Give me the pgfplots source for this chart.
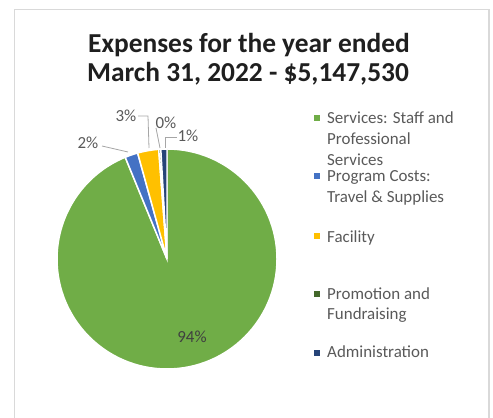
\documentclass[border=0pt]{standalone}
\usepackage{pgfplots}
\pgfplotsset{compat=1.18}
\usepackage{pgfplotstable}
\usepackage{fontspec}
\setmainfont{Carlito}

\definecolor{svc}{HTML}{70AD47}
\definecolor{prog}{HTML}{4472C4}
\definecolor{fac}{HTML}{FFC000}
\definecolor{promo}{HTML}{43682B}
\definecolor{admin}{HTML}{264478}
\definecolor{txt}{HTML}{595959}
\definecolor{lead}{HTML}{A6A6A6}
\definecolor{frame}{HTML}{D9D9D9}

% share of expenses, percent (clockwise from 12 o'clock)
\pgfplotstableread{
name value
Services 93.8
Program 1.9
Facility 3.1
Promotion 0.3
Administration 0.9
}\expenses

\pgfplotstablegetelem{0}{value}\of\expenses \let\vA\pgfplotsretval
\pgfplotstablegetelem{1}{value}\of\expenses \let\vB\pgfplotsretval
\pgfplotstablegetelem{2}{value}\of\expenses \let\vC\pgfplotsretval
\pgfplotstablegetelem{3}{value}\of\expenses \let\vD\pgfplotsretval
\pgfplotstablegetelem{4}{value}\of\expenses \let\vE\pgfplotsretval
\pgfmathsetmacro\aA{90}
\pgfmathsetmacro\aB{\aA-3.6*\vA}
\pgfmathsetmacro\aC{\aB-3.6*\vB}
\pgfmathsetmacro\aD{\aC-3.6*\vC}
\pgfmathsetmacro\aE{\aD-3.6*\vD}
\pgfmathsetmacro\aF{\aE-3.6*\vE}

\newcommand{\lgd}{\fontsize{17}{21}\selectfont}

\begin{document}
\begin{tikzpicture}
\begin{axis}[
  width=493bp, height=418bp, scale only axis,
  xmin=0, xmax=493, ymin=0, ymax=418, y dir=reverse,
  hide axis, clip=true,
]
% frame
\draw[frame, line width=1.2pt] (axis cs:14.5,9.5) rectangle (axis cs:489,440);
% title
\node[font=\bfseries\fontsize{27.5}{29}\selectfont, text=black!88, anchor=base] at (axis cs:249,53) {Expenses for the year ended};
\node[font=\bfseries\fontsize{27.5}{29}\selectfont, text=black!88, anchor=base] at (axis cs:248,82) {March 31, 2022 - \$5,147,530};
% pie slices
\fill[svc, draw=white, line width=1.5pt] (axis cs:167,259) -- ++(\aA:110bp) arc[start angle=\aA, end angle=\aB, radius=110bp] -- cycle;
\fill[prog, draw=white, line width=1.5pt] (axis cs:167,259) -- ++(\aB:110bp) arc[start angle=\aB, end angle=\aC, radius=110bp] -- cycle;
\fill[fac, draw=white, line width=1.5pt] (axis cs:167,259) -- ++(\aC:110bp) arc[start angle=\aC, end angle=\aD, radius=110bp] -- cycle;
\fill[promo, draw=white, line width=1.5pt] (axis cs:167,259) -- ++(\aD:110bp) arc[start angle=\aD, end angle=\aE, radius=110bp] -- cycle;
\fill[admin, draw=white, line width=1.5pt] (axis cs:167,259) -- ++(\aE:110bp) arc[start angle=\aE, end angle=\aF, radius=110bp] -- cycle;
% leader lines
\draw[lead, line width=0.8pt] (axis cs:102,146) -- (axis cs:128,152);
\draw[lead, line width=0.8pt] (axis cs:138,116) -- (axis cs:148,116) -- (axis cs:149,148);
\draw[lead, line width=0.8pt] (axis cs:156,128) -- (axis cs:160,148);
\draw[lead, line width=0.8pt] (axis cs:177,137) -- (axis cs:165,137) -- (axis cs:165,148);
% data labels
\node[font=\lgd, text=black!75] at (axis cs:192,337) {94\%};
\node[font=\lgd, text=txt] at (axis cs:88,143) {2\%};
\node[font=\lgd, text=txt] at (axis cs:126,116) {3\%};
\node[font=\lgd, text=txt] at (axis cs:166,123) {0\%};
\node[font=\lgd, text=txt] at (axis cs:188,136) {1\%};
% legend
\fill[svc] (axis cs:314,115) rectangle (axis cs:320,121);
\fill[prog] (axis cs:314,173) rectangle (axis cs:320,179);
\fill[fac] (axis cs:314,233) rectangle (axis cs:320,239);
\fill[promo] (axis cs:314,291) rectangle (axis cs:320,297);
\fill[admin] (axis cs:314,350) rectangle (axis cs:320,356);
\node[font=\lgd, text=txt, anchor=base west, inner sep=0pt] at (axis cs:327,123) {Services: Staff and};
\node[font=\lgd, text=txt, anchor=base west, inner sep=0pt] at (axis cs:327,144) {Professional};
\node[font=\lgd, text=txt, anchor=base west, inner sep=0pt] at (axis cs:327,165) {Services};
\node[font=\lgd, text=txt, anchor=base west, inner sep=0pt] at (axis cs:327,181) {Program Costs:};
\node[font=\lgd, text=txt, anchor=base west, inner sep=0pt] at (axis cs:327,202) {Travel \& Supplies};
\node[font=\lgd, text=txt, anchor=base west, inner sep=0pt] at (axis cs:327,242) {Facility};
\node[font=\lgd, text=txt, anchor=base west, inner sep=0pt] at (axis cs:327,299) {Promotion and};
\node[font=\lgd, text=txt, anchor=base west, inner sep=0pt] at (axis cs:327,319) {Fundraising};
\node[font=\lgd, text=txt, anchor=base west, inner sep=0pt] at (axis cs:327,357) {Administration};
\end{axis}
\pgfresetboundingbox
\path (0,0) rectangle (493bp,418bp);
\end{tikzpicture}
\end{document}
